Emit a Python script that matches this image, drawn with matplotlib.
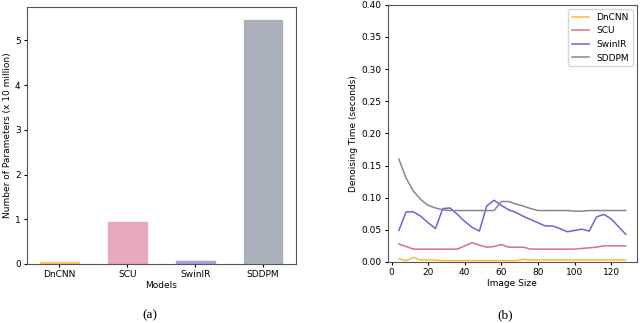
import numpy as np
import matplotlib
matplotlib.use("Agg")
import matplotlib.pyplot as plt

# ==============================
# Data
# ==============================
models = ["DnCNN", "SCU", "SwinIR", "SDDPM"]
params = [0.056, 0.97, 0.09, 5.48]  # x 10 million

image_size = list(range(4, 129, 4))
dncnn_time = [0.005, 0.002, 0.007, 0.003, 0.003, 0.003, 0.002, 0.002,
              0.002, 0.002, 0.002, 0.002, 0.002, 0.002, 0.002, 0.002,
              0.002, 0.004, 0.003, 0.003, 0.003, 0.003, 0.003, 0.003,
              0.003, 0.003, 0.003, 0.003, 0.003, 0.003, 0.003, 0.003]
scu_time = [0.028, 0.024, 0.020, 0.020, 0.020, 0.020, 0.020, 0.020,
            0.020, 0.025, 0.030, 0.026, 0.023, 0.024, 0.027, 0.023,
            0.023, 0.023, 0.020, 0.020, 0.020, 0.020, 0.020, 0.020,
            0.020, 0.021, 0.022, 0.023, 0.025, 0.025, 0.025, 0.025]
swinir_time = [0.049, 0.078, 0.078, 0.071, 0.061, 0.052, 0.083, 0.084,
               0.074, 0.063, 0.054, 0.048, 0.087, 0.096, 0.088, 0.081,
               0.077, 0.071, 0.066, 0.061, 0.056, 0.056, 0.052, 0.047,
               0.049, 0.051, 0.048, 0.070, 0.074, 0.067, 0.055, 0.043]
sddpm_time = [0.160, 0.130, 0.110, 0.097, 0.088, 0.084, 0.081, 0.080,
              0.080, 0.080, 0.080, 0.080, 0.080, 0.080, 0.094, 0.094,
              0.090, 0.087, 0.083, 0.080, 0.080, 0.080, 0.080, 0.080,
              0.079, 0.079, 0.080, 0.080, 0.080, 0.080, 0.080, 0.080]

bar_colors = ["#ffc65c", "#e8a8bd", "#a59de3", "#a9b0ba"]
line_colors = ["#ffb830", "#e2688f", "#7060e0", "#808a94"]

fs = 6.5
fig = plt.figure(figsize=(6.4, 3.23), dpi=100)

# (a) parameter count
ax1 = fig.add_axes([0.042, 0.183, 0.420, 0.796])
ax1.bar(models, params, width=0.6, color=bar_colors, edgecolor="white", linewidth=0.5)
ax1.set_xlabel("Models", fontsize=fs, labelpad=1)
ax1.set_ylabel("Number of Parameters (x 10 million)", fontsize=fs, labelpad=2)
ax1.tick_params(labelsize=fs, length=2.5, pad=2)
for s in ax1.spines.values():
    s.set_color("#555555")

# (b) denoising time
ax2 = fig.add_axes([0.6055, 0.189, 0.390, 0.796])
series = [dncnn_time, scu_time, swinir_time, sddpm_time]
for name, vals, c in zip(models, series, line_colors):
    ax2.plot(image_size, vals, color=c, lw=1.1, label=name)
ax2.set_ylim(0, 0.40)
ax2.set_yticks(np.arange(0, 0.41, 0.05))
ax2.set_xlabel("Image Size", fontsize=fs, labelpad=1)
ax2.set_ylabel("Denoising Time (seconds)", fontsize=fs, labelpad=2)
ax2.tick_params(labelsize=fs, length=2.5, pad=2)
for s in ax2.spines.values():
    s.set_color("#555555")
ax2.legend(loc="upper right", fontsize=fs, handlelength=1.9, borderaxespad=0.5)

fig.text(0.234, 0.015, "(a)", fontsize=9.5, family="Liberation Serif", ha="center")
fig.text(0.789, 0.015, "(b)", fontsize=9.5, family="Liberation Serif", ha="center")

fig.savefig("out.png", dpi=100)
